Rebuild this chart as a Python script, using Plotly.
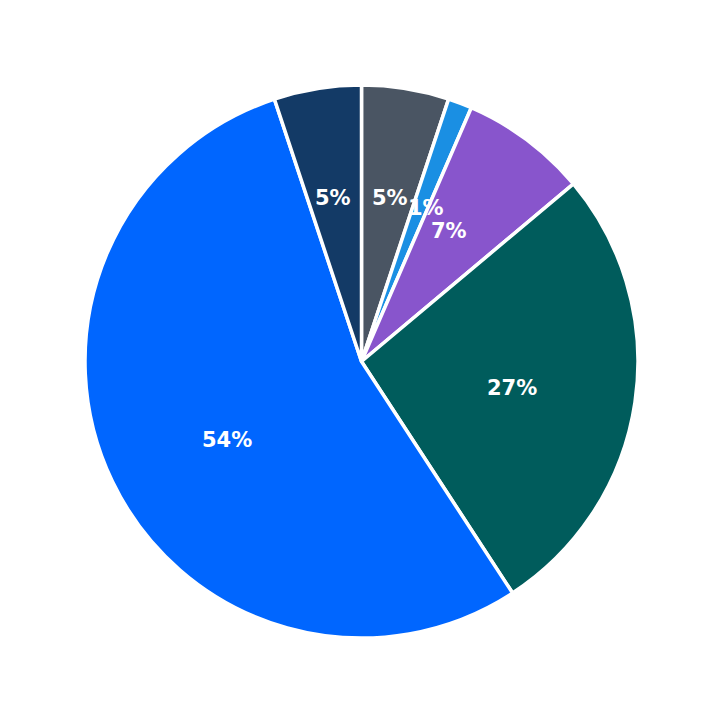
import math
import plotly.graph_objects as go

labels = ["A", "B", "C", "D", "E", "F"]
values = [5.1, 1.4, 7.4, 26.9, 54.1, 5.1]
colors = ["#4a5563", "#1a8fe3", "#8855cc", "#005c5c", "#0066ff", "#133a66"]

fig = go.Figure(go.Pie(
    labels=labels, values=values, sort=False, direction="clockwise", rotation=0,
    marker=dict(colors=colors, line=dict(color="white", width=3.5)),
    textinfo="none", showlegend=False, hoverinfo="label+percent",
))

# label placement at fixed fraction of the radius, from the data
total = sum(values)
cum = 0
anns = []
for v in values:
    mid = (cum + v / 2) / total * 2 * math.pi
    cum += v
    r = 0.5 * 0.65
    anns.append(dict(x=0.5 + r * math.sin(mid), y=0.5 + r * math.cos(mid),
                     xref="paper", yref="paper", showarrow=False,
                     text=f"{round(v / total * 100)}%",
                     font=dict(color="white", size=21, family="DejaVu Sans", weight="bold")))

fig.update_layout(width=723, height=723, margin=dict(l=77, r=93, t=77, b=93),
                  paper_bgcolor="white", annotations=anns)
fig.write_html("out.html")
